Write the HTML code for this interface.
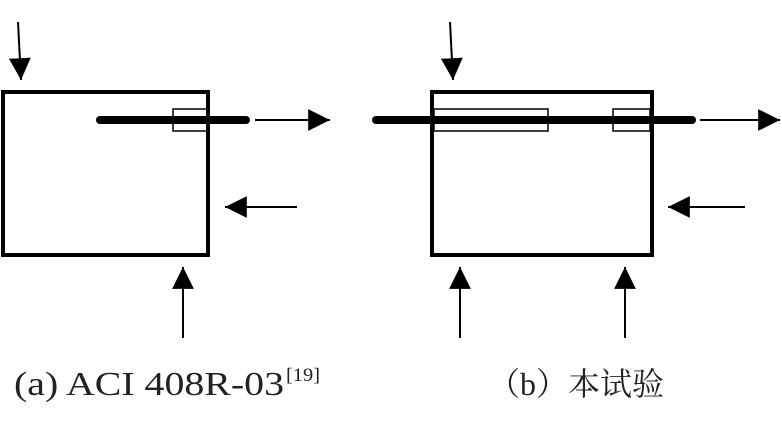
<!DOCTYPE html>
<html><head><meta charset="utf-8"><style>
html,body{margin:0;padding:0;background:#fff;width:782px;height:421px;overflow:hidden}
svg{display:block}
</style></head><body>
<svg width="782" height="421" viewBox="0 0 782 421" xmlns="http://www.w3.org/2000/svg">
<defs>
<marker id="ah" markerWidth="22" markerHeight="24" refX="0" refY="0" viewBox="-20 -11 20 22" markerUnits="userSpaceOnUse" orient="auto">
<path d="M-20,-10 L0,0 L-20,10 Z" fill="#000"/>
</marker>
</defs>
<g fill="none" stroke="#000">
<!-- (a) -->
<rect x="3" y="92" width="205" height="163" stroke-width="4"/>
<rect x="173" y="109" width="35" height="22" stroke-width="1.5"/>
<line x1="100" y1="120" x2="246" y2="120" stroke-width="8" stroke-linecap="round"/>
<line x1="255" y1="120" x2="330" y2="120" stroke-width="2" marker-end="url(#ah)"/>
<line x1="297" y1="207" x2="225" y2="207" stroke-width="2" marker-end="url(#ah)"/>
<line x1="18" y1="22" x2="21" y2="80" stroke-width="2" marker-end="url(#ah)"/>
<line x1="183" y1="338" x2="183" y2="267" stroke-width="2" marker-end="url(#ah)"/>
<!-- (b) -->
<rect x="432" y="92" width="220" height="163" stroke-width="4"/>
<rect x="434" y="109" width="114" height="22" stroke-width="1.5"/>
<rect x="613" y="109" width="37" height="22" stroke-width="1.5"/>
<line x1="376" y1="120" x2="692" y2="120" stroke-width="8" stroke-linecap="round"/>
<line x1="700" y1="120" x2="780" y2="120" stroke-width="2" marker-end="url(#ah)"/>
<line x1="745" y1="207" x2="668" y2="207" stroke-width="2" marker-end="url(#ah)"/>
<line x1="450" y1="22" x2="453" y2="80" stroke-width="2" marker-end="url(#ah)"/>
<line x1="460" y1="338" x2="460" y2="267" stroke-width="2" marker-end="url(#ah)"/>
<line x1="625" y1="338" x2="625" y2="267" stroke-width="2" marker-end="url(#ah)"/>
</g>
<g font-family="'Liberation Serif','Noto Serif CJK SC',serif" fill="#222">
<text x="14" y="395" font-size="34" textLength="270" lengthAdjust="spacingAndGlyphs">(a) ACI 408R-03</text>
<text x="286" y="381" font-size="19" textLength="34" lengthAdjust="spacingAndGlyphs">[19]</text>
<text x="488" y="395" font-size="32" textLength="176" lengthAdjust="spacingAndGlyphs">（b）本试验</text>
</g>
</svg>
</body></html>
